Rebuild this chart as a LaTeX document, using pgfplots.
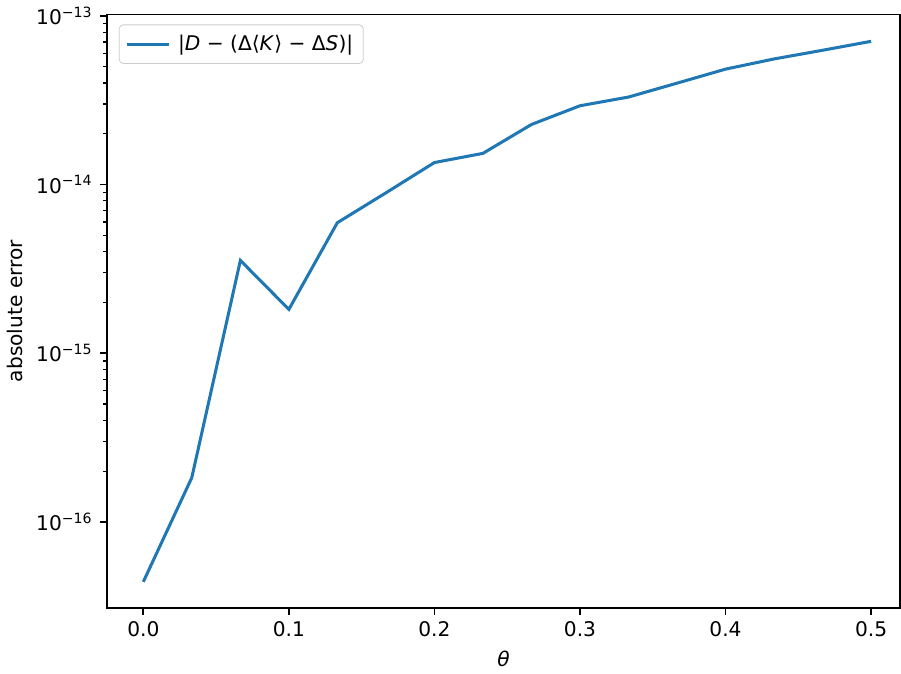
\documentclass[border=0pt]{standalone}
\usepackage{fontspec}
\setmainfont{DejaVu Sans}
\usepackage{pgfplots}
\pgfplotsset{compat=1.18}
\definecolor{mplblue}{HTML}{1F77B4}
\begin{document}
\begin{tikzpicture}
\begin{axis}[
  scale only axis,
  width=393pt, height=294pt,
  ymode=log,
  xmin=-0.025, xmax=0.52,
  ymin=3.1e-17, ymax=1.02e-13,
  xtick={0,0.1,0.2,0.3,0.4,0.5},
  xticklabels={0.0,0.1,0.2,0.3,0.4,0.5},
  ytick={1e-16,1e-15,1e-14,1e-13},
  yticklabels={10\textsuperscript{−16},10\textsuperscript{−15},10\textsuperscript{−14},10\textsuperscript{−13}},
  tick label style={font=\fontsize{10}{12}\selectfont},
  label style={font=\fontsize{10}{12}\selectfont},
  tick align=outside, tick pos=left,
  major tick length=3.5pt, minor tick length=2pt,
  every tick/.style={black, line width=0.8pt},
  minor tick style={line width=0.6pt},
  axis line style={line width=0.8pt},
  minor x tick num=0,
  xlabel={\textit{θ}},
  ylabel={absolute error},
  legend pos=north west,
  legend style={draw=black!20, rounded corners=2pt, fill=white, fill opacity=0.8, text opacity=1,
    font=\fontsize{10}{12}\selectfont, inner sep=3pt, at={(0.015,0.983)}},
  legend cell align=left,
  legend image code/.code={\draw[#1, line width=1.5pt] (0pt,0pt) -- (21pt,0pt);},
]
\addplot[mplblue, line width=1.5pt] coordinates {
  (0.0000, 4.42e-17)
  (0.0333, 1.83e-16)
  (0.0667, 3.55e-15)
  (0.1000, 1.82e-15)
  (0.1333, 5.94e-15)
  (0.1667, 8.93e-15)
  (0.2000, 1.35e-14)
  (0.2333, 1.53e-14)
  (0.2667, 2.27e-14)
  (0.3000, 2.93e-14)
  (0.3333, 3.30e-14)
  (0.3667, 3.99e-14)
  (0.4000, 4.83e-14)
  (0.4333, 5.55e-14)
  (0.4667, 6.25e-14)
  (0.5000, 7.06e-14)
};
\addlegendentry{\,|\textit{D} − (Δ⟨\textit{K}⟩ − Δ\textit{S})|}
\end{axis}
\end{tikzpicture}
\end{document}
